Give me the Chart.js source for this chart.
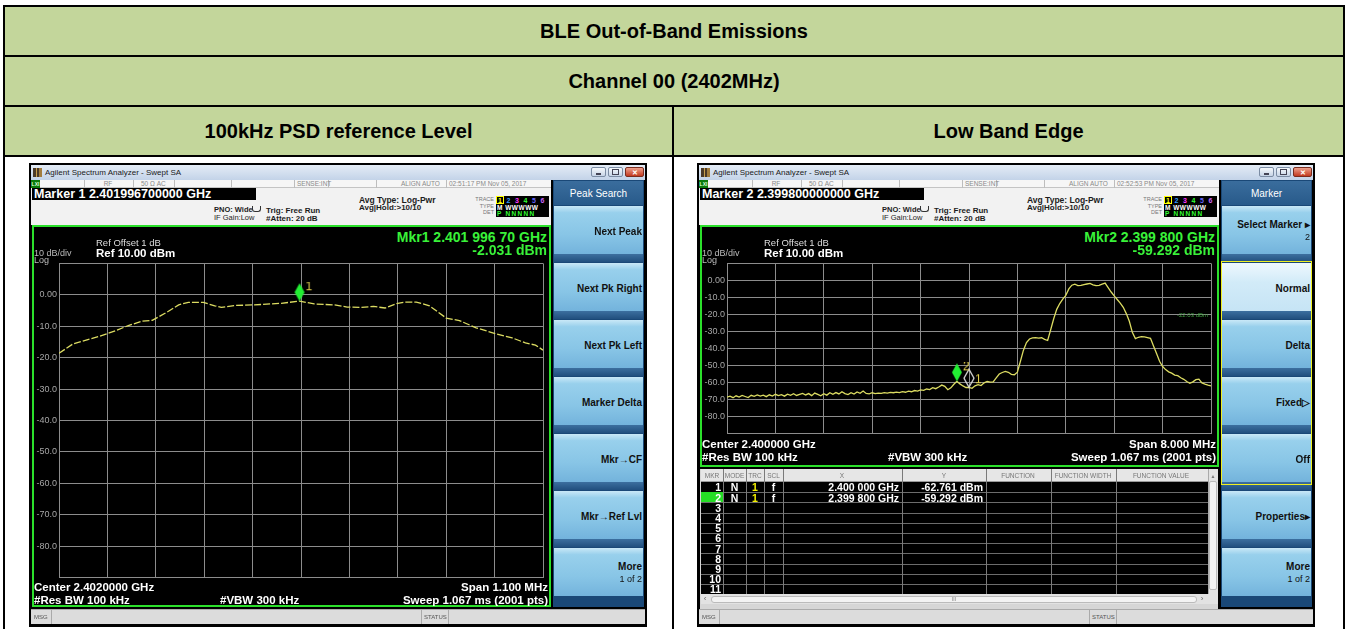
<!DOCTYPE html>
<html>
<head>
<meta charset="utf-8">
<title>BLE Out-of-Band Emissions</title>
<script src="https://cdn.jsdelivr.net/npm/chart.js@4.4.1/dist/chart.umd.min.js"></script>
<style>
  body { margin: 0; width: 1348px; height: 629px; overflow: hidden; background: #fff; position: relative; font-family: "Liberation Sans", Arial, sans-serif; }
  .b { position: absolute; box-sizing: border-box; }
  .t { position: absolute; white-space: nowrap; line-height: 1; transform: translateY(-50%); z-index: 6; }
  .hd { position: absolute; background: #c3d69b; display: flex; align-items: center; justify-content: center; font-weight: bold; font-size: 20px; color: #000; }
  canvas { position: absolute; z-index: 5; }
</style>
</head>
<body>
<div class="hd" style="left:5px;top:7px;width:1338px;height:48px">BLE Out-of-Band Emissions</div>
<div class="hd" style="left:5px;top:57px;width:1338px;height:48px">Channel 00 (2402MHz)</div>
<div class="hd" style="left:5px;top:107px;width:667px;height:48px">100kHz PSD reference Level</div>
<div class="hd" style="left:674px;top:107px;width:669px;height:48px">Low Band Edge</div>
<canvas id="leftChart"></canvas>
<canvas id="rightChart"></canvas>
<script>
// trace (MHz, dBm)
const leftFreqMHz = [
  2401.450, 2401.482, 2401.504, 2401.542, 2401.579, 2401.609, 2401.639, 2401.662, 2401.692,
  2401.722, 2401.744, 2401.778, 2401.804, 2401.819, 2401.849, 2401.894, 2401.955, 2401.997,
  2402.030, 2402.075, 2402.105, 2402.135, 2402.165, 2402.191, 2402.217, 2402.236, 2402.262,
  2402.292, 2402.330, 2402.360, 2402.398, 2402.443, 2402.480, 2402.510, 2402.533, 2402.550
];
const leftLevelDbm = [
  -18.6, -15.6, -14.7, -13.2, -11.4, -9.7, -8.4, -8.1, -5.8,
  -3.2, -2.4, -2.4, -3.5, -4.0, -3.4, -3.2, -2.7, -2.0,
  -2.9, -3.2, -3.9, -4.0, -3.7, -4.2, -2.8, -2.3, -2.3,
  -3.5, -7.4, -8.2, -10.5, -12.4, -13.7, -15.3, -16.0, -17.6
];

// trace (MHz, dBm)
const rightFreqMHz = [
  2396.00, 2396.05, 2396.10, 2396.15, 2396.20, 2396.25, 2396.30, 2396.35, 2396.40, 2396.45,
  2396.50, 2396.55, 2396.60, 2396.65, 2396.70, 2396.75, 2396.80, 2396.85, 2396.90, 2396.95,
  2397.00, 2397.05, 2397.10, 2397.15, 2397.20, 2397.25, 2397.30, 2397.35, 2397.40, 2397.45,
  2397.50, 2397.55, 2397.60, 2397.65, 2397.70, 2397.75, 2397.80, 2397.85, 2397.90, 2397.95,
  2398.00, 2398.05, 2398.10, 2398.15, 2398.20, 2398.25, 2398.30, 2398.35, 2398.40, 2398.45,
  2398.50, 2398.55, 2398.60, 2398.65, 2398.70, 2398.75, 2398.80, 2398.85, 2398.90, 2398.95,
  2399.00, 2399.05, 2399.10, 2399.15, 2399.20, 2399.25, 2399.30, 2399.35, 2399.40, 2399.45,
  2399.50, 2399.55, 2399.60, 2399.65, 2399.70, 2399.75, 2399.80, 2399.85, 2399.90, 2399.95,
  2400.00, 2400.05, 2400.10, 2400.15, 2400.20, 2400.25, 2400.30, 2400.35, 2400.40, 2400.45,
  2400.50, 2400.55, 2400.60, 2400.65, 2400.70, 2400.75, 2400.80, 2400.85, 2400.90, 2400.95,
  2401.00, 2401.05, 2401.10, 2401.15, 2401.20, 2401.25, 2401.30, 2401.35, 2401.40, 2401.45,
  2401.50, 2401.55, 2401.60, 2401.65, 2401.70, 2401.75, 2401.80, 2401.85, 2401.90, 2401.95,
  2402.00, 2402.05, 2402.10, 2402.15, 2402.20, 2402.25, 2402.30, 2402.35, 2402.40, 2402.45,
  2402.50, 2402.55, 2402.60, 2402.65, 2402.70, 2402.75, 2402.80, 2402.85, 2402.90, 2402.95,
  2403.00, 2403.05, 2403.10, 2403.15, 2403.20, 2403.25, 2403.30, 2403.35, 2403.40, 2403.45,
  2403.50, 2403.55, 2403.60, 2403.65, 2403.70, 2403.75, 2403.80, 2403.85, 2403.90, 2403.95,
  2404.00
];
const rightLevelDbm = [
  -68.6, -68.0, -68.9, -67.8, -68.5, -67.6, -68.2, -68.8, -67.5, -68.1,
  -67.3, -68.0, -67.4, -68.3, -67.2, -67.9, -66.9, -67.7, -67.1, -68.0,
  -66.8, -67.5, -66.6, -67.6, -67.0, -66.4, -67.3, -66.5, -67.7, -66.2,
  -67.0, -67.8, -66.6, -67.4, -66.0, -66.9, -65.9, -66.7, -65.4, -66.5,
  -67.1, -66.0, -66.8, -65.5, -66.3, -65.0, -66.4, -66.6, -66.0, -66.5,
  -66.2, -66.4, -65.9, -66.2, -65.8, -66.0, -65.6, -65.9, -65.3, -65.7,
  -65.1, -65.4, -64.7, -65.0, -64.3, -64.6, -63.8, -64.1, -63.0, -63.6,
  -62.6, -61.5, -62.2, -64.2, -63.1, -61.0, -59.3, -60.8, -62.0, -62.9,
  -62.8, -63.4, -61.9, -61.2, -61.8, -60.2, -59.4, -59.8, -59.6, -57.3,
  -55.0, -54.1, -53.5, -54.0, -55.2, -55.4, -53.9, -47.5, -41.0, -36.5,
  -34.4, -33.8, -33.6, -33.9, -33.7, -34.6, -35.3, -29.0, -22.5, -17.0,
  -13.6, -11.0, -8.8, -5.0, -2.8, -2.2, -3.0, -2.9, -2.5, -2.1,
  -1.8, -2.6, -3.1, -2.9, -2.2, -1.6, -4.2, -6.8, -9.1, -11.2,
  -13.3, -15.8, -19.5, -24.0, -30.5, -34.2, -33.4, -33.0, -33.2, -33.6,
  -34.0, -38.5, -43.0, -47.5, -50.6, -52.4, -53.7, -54.5, -55.6, -56.0,
  -57.2, -58.1, -59.4, -60.4, -59.6, -58.3, -58.0, -60.2, -60.9, -61.5,
  -62.0
];

const leftMarkerFreqMHz = [2401.9967];
const leftMarkerDbm = [-2.031];
const rightMarkerFreqMHz = [2400.0, 2399.8];
const rightMarkerDbm = [-62.761, -59.292];
const displayLineDbm = -22.03;

// 10 dB/div, ref 10 dBm: labels from top line down
const yTickLabels = ['', '0.00', '-10.0', '-20.0', '-30.0', '-40.0', '-50.0', '-60.0', '-70.0', '-80.0', ''];

const markerRows = [
  ['1', 'N', '1', 'f', '2.400 000 GHz', '-62.761 dBm'],
  ['2', 'N', '1', 'f', '2.399 800 GHz', '-59.292 dBm']
];

const FONT = '"Liberation Sans", Arial, sans-serif';

function box(x, y, w, h, css) {
  const d = document.createElement('div');
  d.className = 'b';
  d.style.cssText = `left:${x}px;top:${y}px;width:${w}px;height:${h}px;` + (css || '');
  document.body.appendChild(d);
  return d;
}

function txt(x, y, s, css, align) {
  const d = document.createElement('div');
  d.className = 't';
  d.textContent = s;
  d.style.cssText = (css || '') + `;top:${y}px;` + (align === 'r' ? `right:${1348 - x}px;` : `left:${x}px;`);
  if (align === 'c') d.style.transform = 'translate(-50%,-50%)';
  document.body.appendChild(d);
  return d;
}

// table rules
box(3, 5, 1342, 2, 'background:#000');
box(3, 55, 1342, 2, 'background:#000');
box(3, 105, 1342, 2, 'background:#000');
box(3, 155, 1342, 2, 'background:#000');
box(3, 5, 2, 624, 'background:#000');
box(1343, 5, 2, 624, 'background:#000');
box(672, 105, 2, 524, 'background:#000');

const MSG_TOP = 609;

function drawShot(ox, s) {
  box(ox, 163, 618, 464, 'background:#000');
  // window title bar
  box(ox + 2, 165, 614, 15, 'background:linear-gradient(#e4ecf6,#c3d3e8)');
  box(ox + 4, 168, 9, 9, 'background:linear-gradient(90deg,#4b3a28 0 30%,#c9a04e 30% 45%,#4b3a28 45% 62%,#a27d3e 62%)');
  txt(ox + 16, 172.5, 'Agilent Spectrum Analyzer - Swept SA', 'font-size:8px;color:#1a1a1a');
  const btn = 'background:linear-gradient(#f6f9fc,#c6d4e6);border:1px solid #7b8ca3;border-radius:2px';
  box(ox + 562, 167, 15, 10, btn);
  box(ox + 579, 167, 15, 10, btn);
  box(ox + 596, 167, 19, 10, 'background:linear-gradient(#eea08c,#c23a20);border:1px solid #7a2c1e;border-radius:2px');
  box(ox + 567, 173, 5, 2, 'background:#445');
  box(ox + 583, 169, 7, 6, 'border:1px solid #445');
  txt(ox + 605.5, 172, '✕', 'font-size:7px;color:#fff;font-weight:bold', 'c');

  // status row
  box(ox + 2, 180, 520, 8, 'background:#f6f6f6;border-bottom:1px solid #c4c4c4');
  box(ox + 2, 180, 9, 8, 'background:#0a7a0a');
  txt(ox + 6.5, 184, 'LXI', 'font-size:5px;color:#dfd;font-weight:bold', 'c');
  [55, 104, 145, 202, 265, 299, 347, 417].forEach(function (sx) {
    box(ox + sx, 180, 1, 8, 'background:#bdbdbd');
  });
  const st = 'font-size:6.5px;color:#8a8a8a';
  txt(ox + 79, 184, 'RF', st, 'c');
  txt(ox + 112, 184, '50 Ω   AC', st);
  txt(ox + 268, 184, 'SENSE:INT', st);
  txt(ox + 372, 184, 'ALIGN AUTO', st);
  txt(ox + 420, 184, s.time, st);

  // setup panel
  box(ox + 2, 188, 520, 37, 'background:#f2f2f2');
  box(ox + 3, 188, 224, 12, 'background:#000');
  txt(ox + 5, 194, s.marker, `font:bold 12.5px ${FONT};color:#fff`);
  const inf = `font:bold 7.5px ${FONT};color:#1c1c1c`;
  txt(ox + 185, 209, 'PNO: Wide', inf);
  box(ox + 223, 206, 9, 6, 'border:1px solid #333;border-top:none;border-radius:0 0 3px 3px');
  txt(ox + 185, 217, 'IF Gain:Low', `font:7.5px ${FONT};color:#1c1c1c`);
  txt(ox + 237, 209.5, 'Trig: Free Run', `font:bold 8px ${FONT};color:#1c1c1c`);
  txt(ox + 237, 218, '#Atten: 20 dB', `font:bold 8px ${FONT};color:#1c1c1c`);
  txt(ox + 330, 200, 'Avg Type: Log-Pwr', `font:bold 8.5px ${FONT};color:#1c1c1c`);
  txt(ox + 330, 206.5, 'Avg|Hold:>10/10', `font:bold 8px ${FONT};color:#1c1c1c`);
  const lab = 'font-size:5.5px;color:#777';
  txt(ox + 465, 200, 'TRACE', lab, 'r');
  txt(ox + 465, 206.5, 'TYPE', lab, 'r');
  txt(ox + 465, 213, 'DET', lab, 'r');
  box(ox + 467, 196, 53, 21, 'background:#000');
  const traceColors = ['#ff0', '#39f', '#f3f', '#3f3', '#66f', '#c6f'];
  traceColors.forEach(function (c, i) {
    txt(ox + 471 + i * 8.5, 200, String(i + 1), `font:bold 7px ${FONT};color:${c}`, 'c');
  });
  box(ox + 467, 196, 8, 8, 'border:1px solid #ff0');
  txt(ox + 468, 206.5, 'M WWWWW', `font:bold 6.5px ${FONT};color:#fff;letter-spacing:0.5px`);
  txt(ox + 468, 213, 'P NNNNN', `font:bold 6.5px ${FONT};color:#3f3;letter-spacing:1.3px`);

  // graticule frame
  box(ox + 3, 225, 519, s.graphBottom - 225, 'background:#000;border:2px solid #2be02b');
  const grn = `font:bold 14px ${FONT};color:#39f239`;
  txt(ox + 518, 236.5, s.mkrFreq, grn, 'r');
  txt(ox + 518, 249.5, s.mkrLevel, grn, 'r');
  txt(ox + 67, 242, 'Ref Offset 1 dB', `font:9.5px ${FONT};color:#ddd`);
  txt(ox + 5, 253, '10 dB/div', `font:9px ${FONT};color:#bbb`);
  txt(ox + 67, 253, 'Ref 10.00 dBm', `font:bold 11.5px ${FONT};color:#fff`);
  txt(ox + 5, 259.5, 'Log', `font:9px ${FONT};color:#bbb`);
  const bot = `font:bold 11.5px ${FONT};color:#fff`;
  txt(ox + 5, s.centerY, s.center, bot);
  txt(ox + 519, s.centerY, s.span, bot, 'r');
  txt(ox + 5, s.centerY + 13, '#Res BW 100 kHz', bot);
  txt(ox + 191, s.centerY + 13, '#VBW 300 kHz', bot);
  txt(ox + 519, s.centerY + 13, 'Sweep  1.067 ms (2001 pts)', bot, 'r');

  // softkeys
  box(ox + 524, 180, 91, MSG_TOP - 182, 'background:#1a4877');
  box(ox + 525, 181, 89, 24, 'background:linear-gradient(#3a6d9d,#285a8a)');
  txt(ox + 569.5, 193, s.menu, `font:10px ${FONT};color:#fff`, 'c');
  s.keys.forEach(function (k, i) {
    const top = 205 + i * 57;
    const bg = i === s.selected
      ? 'linear-gradient(#eef8fe,#d2ebf8 40%,#c6e4f5)'
      : 'linear-gradient(#c9e8f7 0,#98d0ec 14%,#88c5e6 60%,#73b3dc 100%)';
    box(ox + 525, top + 1, 89, 48, 'background:' + bg);
    if (i < 6) box(ox + 525, top + 49, 89, 8, 'background:linear-gradient(#3c6f9f,#214f7e)');
    const kf = `font:bold 10px ${FONT};color:#111`;
    if (k.length === 1) {
      txt(ox + 613, top + 26, k[0], kf, 'r');
    } else {
      txt(ox + 613, top + 19, k[0], kf, 'r');
      txt(ox + 613, top + 32, k[1], `font:9px ${FONT};color:#111`, 'r');
    }
  });
  if (s.selected >= 0) box(ox + 524, 261, 91, 224, 'border:1px solid #f0f020');

  // message bar
  box(ox + 2, MSG_TOP, 614, 15, 'background:#dcdcdc;border-top:1px solid #aaa');
  box(ox + 22, MSG_TOP, 1, 15, 'background:#aaa');
  box(ox + 392, MSG_TOP, 1, 15, 'background:#aaa');
  box(ox + 419, MSG_TOP, 1, 15, 'background:#aaa');
  txt(ox + 5, MSG_TOP + 7.5, 'MSG', 'font-size:6px;color:#555');
  txt(ox + 395, MSG_TOP + 7.5, 'STATUS', 'font-size:6px;color:#555');
}

drawShot(29, {
  time: '02:51:17 PM Nov 05, 2017',
  marker: 'Marker 1 2.401996700000 GHz',
  graphBottom: 607,
  mkrFreq: 'Mkr1 2.401 996 70 GHz',
  mkrLevel: '-2.031 dBm',
  center: 'Center 2.4020000 GHz',
  span: 'Span 1.100 MHz',
  centerY: 587,
  menu: 'Peak Search',
  keys: [['Next Peak'], ['Next Pk Right'], ['Next Pk Left'], ['Marker Delta'], ['Mkr→CF'], ['Mkr→Ref Lvl'], ['More', '1 of 2']],
  selected: -1
});

drawShot(697, {
  time: '02:52:53 PM Nov 05, 2017',
  marker: 'Marker 2 2.399800000000 GHz',
  graphBottom: 467,
  mkrFreq: 'Mkr2 2.399 800 GHz',
  mkrLevel: '-59.292 dBm',
  center: 'Center 2.400000 GHz',
  span: 'Span 8.000 MHz',
  centerY: 444,
  menu: 'Marker',
  keys: [['Select Marker ▸', '2'], ['Normal'], ['Delta'], ['Fixed▷'], ['Off'], ['Properties▸'], ['More', '1 of 2']],
  selected: 1
});

// marker table (right screen)
(function () {
  const ox = 697, head = 469, top = 482, rh = 10.2;
  box(ox + 3, head, 518, MSG_TOP - head, 'background:#d6d6d6');
  box(ox + 4, head, 507, top - head, 'background:#e6e6e6;border-bottom:1px solid #999');
  box(ox + 4, top, 507, 11 * rh, 'background:#000');
  for (let i = 1; i <= 11; i++) box(ox + 4, top + i * rh, 507, 1, 'background:#6c6c6c');
  const cols = [26, 49, 67, 86, 205, 289, 354, 419];
  cols.forEach(function (c) { box(ox + c, head, 1, top - head + 11 * rh, 'background:#7a7a7a'); });
  const hf = 'font-size:6.5px;color:#777';
  [['MKR', 15], ['MODE', 37.5], ['TRC', 58], ['SCL', 76.5], ['X', 145], ['Y', 247],
   ['FUNCTION', 321], ['FUNCTION WIDTH', 386], ['FUNCTION VALUE', 464]].forEach(function (h) {
    txt(ox + h[1], (head + top) / 2, h[0], hf, 'c');
  });
  box(ox + 4, top + rh, 22, rh, 'background:#25dd25');
  const rf = `font:bold 10.5px ${FONT};color:#fff`;
  for (let i = 0; i < 11; i++) txt(ox + 24, top + i * rh + 5.3, String(i + 1), rf, 'r');
  markerRows.forEach(function (r, i) {
    const y = top + i * rh + 5.3;
    txt(ox + 37.5, y, r[1], rf, 'c');
    txt(ox + 58, y, r[2], `font:bold 10.5px ${FONT};color:#f4f000`, 'c');
    txt(ox + 76.5, y, r[3], rf, 'c');
    txt(ox + 202, y, r[4], rf, 'r');
    txt(ox + 286, y, r[5], rf, 'r');
  });
  // scroll bars
  const sbTop = top + 11 * rh;
  box(ox + 511, head, 10, sbTop - head, 'background:#e2e2e2;border-left:1px solid #aaa');
  box(ox + 512, head + 12, 8, sbTop - head - 16, 'background:#f2f2f2;border:1px solid #bbb;border-radius:2px');
  txt(ox + 516, (head + top) / 2, '▲', 'font-size:5px;color:#777', 'c');
  box(ox + 4, sbTop, 517, 10, 'background:#e2e2e2');
  box(ox + 14, sbTop + 1.5, 486, 7, 'background:#f3f3f3;border:1px solid #bbb;border-radius:3px');
  txt(ox + 8, sbTop + 5, '‹', 'font-size:8px;color:#666', 'c');
  txt(ox + 505, sbTop + 5, '›', 'font-size:8px;color:#666', 'c');
  txt(ox + 257, sbTop + 5, 'III', 'font-size:5px;color:#777', 'c');
})();

// marker glyph used as the point style
function markerGlyph(label, filled) {
  const c = document.createElement('canvas');
  c.width = 34; c.height = 38;
  const g = c.getContext('2d');
  g.beginPath();
  g.moveTo(17, 1); g.lineTo(22, 10); g.lineTo(17, 19); g.lineTo(12, 10); g.closePath();
  if (filled) { g.fillStyle = '#22ee33'; g.fill(); }
  else { g.strokeStyle = '#dcdcdc'; g.lineWidth = 1.3; g.stroke(); }
  g.fillStyle = '#e4d24e';
  g.font = '12px ' + FONT;
  g.fillText(label, 23, filled ? 8 : 15);
  return c;
}

const displayLinePlugin = {
  id: 'displayLine',
  afterDatasetsDraw(chart, args, opts) {
    if (opts.value === undefined) return;
    const ctx = chart.ctx;
    const y = chart.scales.y.getPixelForValue(opts.value);
    ctx.save();
    ctx.fillStyle = '#3f9f3f';
    ctx.font = '6px ' + FONT;
    ctx.textAlign = 'right';
    ctx.fillText(opts.text, chart.chartArea.right - 3, y - 1);
    ctx.restore();
  }
};

function spectrum(id, pos, freqs, levels, mFreqs, mLevels, glyphs, dash, dl) {
  const cv = document.getElementById(id);
  cv.width = pos.w; cv.height = pos.h;
  cv.style.left = pos.x + 'px'; cv.style.top = pos.y + 'px';
  return new Chart(cv, {
    type: 'line',
    data: {
      datasets: [
        {
          data: mFreqs.map((f, i) => ({ x: f, y: mLevels[i] })),
          showLine: false,
          pointStyle: glyphs,
          pointRadius: 3,
          clip: false,
          order: 0
        },
        {
          data: freqs.map((f, i) => ({ x: f, y: levels[i] })),
          borderColor: '#dcdc62',
          borderWidth: 1.3,
          borderDash: dash,
          pointRadius: 0,
          tension: 0,
          order: 1
        }
      ]
    },
    options: {
      responsive: false,
      animation: false,
      events: [],
      devicePixelRatio: 1,
      layout: { padding: { top: pos.pt, bottom: pos.pb, left: 0, right: 1 } },
      plugins: { legend: { display: false }, tooltip: { enabled: false }, displayLine: dl || {} },
      scales: {
        x: {
          type: 'linear',
          min: freqs[0],
          max: freqs[freqs.length - 1],
          ticks: { count: 11, display: false },
          grid: { color: '#8c8c8c', drawTicks: false },
          border: { display: false },
          afterFit: (s) => { s.height = 0; }
        },
        y: {
          min: -90,
          max: 10,
          ticks: {
            count: 11,
            color: '#a6a6a6',
            padding: 2,
            font: { size: 9, family: FONT },
            callback: (v) => yTickLabels[Math.round((10 - v) / 10)]
          },
          grid: { color: '#8c8c8c', drawTicks: false },
          border: { display: false },
          afterFit: (s) => { s.width = 26; }
        }
      }
    },
    plugins: [displayLinePlugin]
  });
}

spectrum('leftChart', { x: 33, y: 256, w: 515, h: 329, pt: 6, pb: 6 },
  leftFreqMHz, leftLevelDbm, leftMarkerFreqMHz, leftMarkerDbm, [markerGlyph('1', true)], [7, 2]);

spectrum('rightChart', { x: 701, y: 256, w: 515, h: 185, pt: 6, pb: 6 },
  rightFreqMHz, rightLevelDbm, rightMarkerFreqMHz, rightMarkerDbm,
  [markerGlyph('1', false), markerGlyph('2', true)], [],
  { value: displayLineDbm, text: '-22.03 dBm' });
</script>
</body>
</html>
